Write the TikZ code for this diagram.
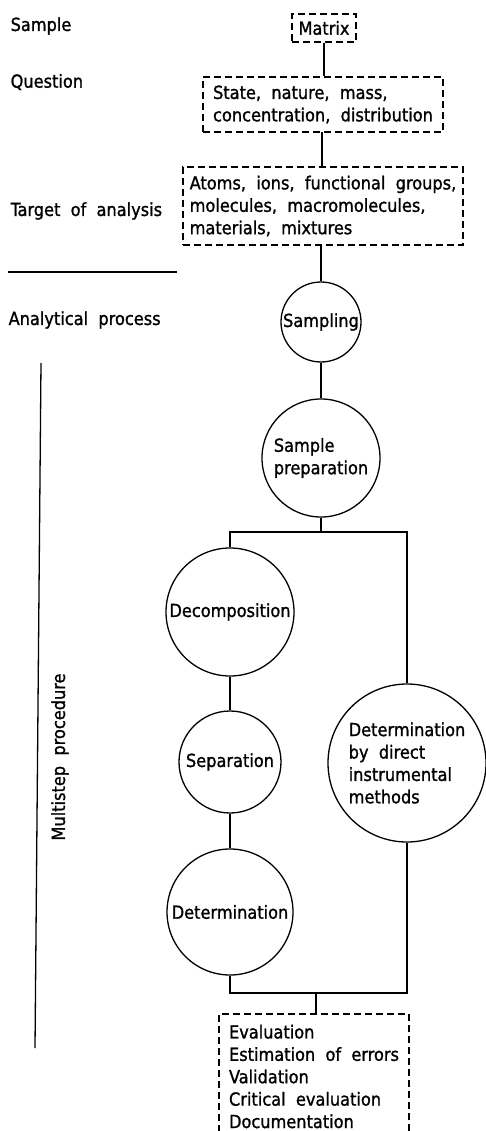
\documentclass[tikz,border=0pt]{standalone}
\usepackage{fontspec}
\setmainfont{DejaVu Sans Condensed}[WordSpace=2.0,FakeBold=1.2]
\begin{document}
\begin{tikzpicture}[x=1pt,y=-1pt,line width=1.3pt,
  txt/.style={font=\fontsize{18}{22.4}\selectfont,inner sep=0pt,align=left},
  dbox/.style={draw,dash pattern=on 7pt off 4pt,rectangle,inner sep=0pt,txt},
  proc/.style={draw,circle,inner sep=0pt},
  ptext/.style={txt}]
\useasboundingbox (0,0) rectangle (486,1131);
% left column labels
\node[txt,anchor=west] (lsample) at (10,26) {Sample};
\node[txt,anchor=west] (lquestion) at (10,82) {Question};
\node[txt,anchor=west] (ltarget) at (10,211) {Target of analysis};
\coordinate (sepL) at (8,272);
\coordinate (sepR) at (177,272);
\draw (sepL) -- (sepR);
\node[txt,anchor=west] (lprocess) at (8,320) {Analytical process};
\coordinate (vtop) at (41,363);
\coordinate (vbot) at (35,1048);
\draw (vtop) -- (vbot);
\node[txt,rotate=90] (lmulti) at (60,757) {Multistep procedure};
% dashed boxes
\node[dbox,minimum width=64pt,minimum height=28pt] (matrix) at (324,28) {Matrix};
\node[dbox,minimum width=240pt,minimum height=55pt] (question) at (323,104.5)
  {State, nature, mass,\\concentration, distribution};
\node[dbox,minimum width=280pt,minimum height=78pt] (target) at (323,206)
  {Atoms, ions, functional groups,\\molecules, macromolecules,\\materials, mixtures};
\node[dbox,minimum width=190pt,minimum height=125pt] (eval) at (314,1076.5)
  {Evaluation\\Estimation of errors\\Validation\\Critical evaluation\\Documentation};
% process circles
\node[proc,minimum size=80pt,label={[ptext]center:Sampling}] (sampling) at (321,322) {};
\node[proc,minimum size=118pt,label={[ptext]center:Sample\\preparation}] (prep) at (321,458) {};
\node[proc,minimum size=128pt,label={[ptext]center:Decomposition}] (decomp) at (230,612) {};
\node[proc,minimum size=102pt,label={[ptext]center:Separation}] (separ) at (230,762) {};
\node[proc,minimum size=126pt,label={[ptext]center:Determination}] (determ) at (230,912) {};
\node[proc,minimum size=158pt,label={[ptext]center:Determination\\by direct\\instrumental\\methods}] (direct) at (407,763) {};
% connectors
\draw (matrix.south) -- (matrix.south |- question.north);
\draw (322,132) coordinate (qb) -- (qb |- target.north);
\draw (target.south -| sampling.north) -- (sampling.north);
\draw (sampling.south) -- (prep.north);
\coordinate (br) at (321,532);
\draw (prep.south) -- (br);
\draw (decomp.north) |- (br) -| (direct.north);
\draw (decomp.south) -- (separ.north);
\draw (separ.south) -- (determ.north);
\coordinate (jn) at (316,993);
\draw (determ.south) |- (jn) -| (direct.south);
\draw (jn) -- (jn |- eval.north);
\end{tikzpicture}
\end{document}
